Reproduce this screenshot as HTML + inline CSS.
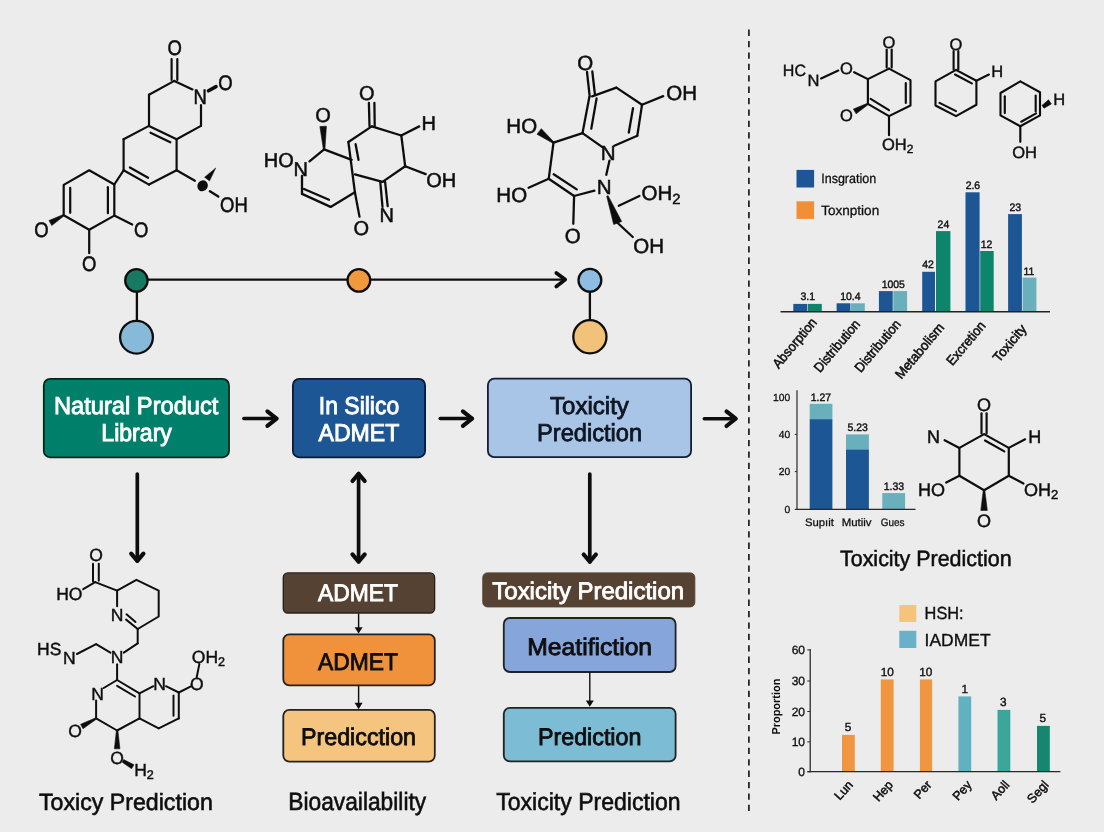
<!DOCTYPE html>
<html><head><meta charset="utf-8"><title>ADMET workflow</title>
<style>
html,body{margin:0;padding:0;background:#ececec;}
body{width:1104px;height:832px;overflow:hidden;}
svg{display:block;font-family:"Liberation Sans",sans-serif;will-change:transform;transform:translateZ(0);text-rendering:geometricPrecision;}
</style></head><body>
<svg width="1104" height="832" viewBox="0 0 1104 832">
<defs><filter id="soft" x="-2%" y="-2%" width="104%" height="104%"><feGaussianBlur stdDeviation="0.38"/></filter></defs>
<rect x="0" y="0" width="1104" height="832" fill="#ececec"/>
<g filter="url(#soft)">
<line x1="171.6" y1="59.0" x2="171.6" y2="80.0" stroke="#111" stroke-width="2.2" stroke-linecap="round"/>
<line x1="177.3" y1="59.0" x2="177.3" y2="80.0" stroke="#111" stroke-width="2.2" stroke-linecap="round"/>
<text transform="translate(174.8,55.3) scale(0.88,1)" x="0" y="0" font-size="21" text-anchor="middle" fill="#111" stroke="#111" stroke-width="0.55">O</text>
<line x1="174.3" y1="80.9" x2="149.0" y2="94.7" stroke="#111" stroke-width="2.2" stroke-linecap="round"/>
<line x1="174.3" y1="80.9" x2="192.5" y2="89.4" stroke="#111" stroke-width="2.2" stroke-linecap="round"/>
<text transform="translate(200.2,103.7) scale(0.88,1)" x="0" y="0" font-size="21" text-anchor="middle" fill="#111" stroke="#111" stroke-width="0.55">N</text>
<line x1="208.5" y1="90.8" x2="216.0" y2="86.6" stroke="#111" stroke-width="3.6" stroke-linecap="round"/>
<text transform="translate(225.4,89.7) scale(0.88,1)" x="0" y="0" font-size="21" text-anchor="middle" fill="#111" stroke="#111" stroke-width="0.55">O</text>
<line x1="149.0" y1="94.7" x2="149.0" y2="125.9" stroke="#111" stroke-width="2.2" stroke-linecap="round"/>
<line x1="201.0" y1="105.0" x2="201.0" y2="125.9" stroke="#111" stroke-width="2.2" stroke-linecap="round"/>
<line x1="201.0" y1="125.9" x2="176.6" y2="139.2" stroke="#111" stroke-width="2.2" stroke-linecap="round"/>
<line x1="149.0" y1="125.9" x2="176.6" y2="139.2" stroke="#111" stroke-width="2.2" stroke-linecap="round"/>
<line x1="150.5" y1="132.7" x2="170.3" y2="142.3" stroke="#111" stroke-width="2.2" stroke-linecap="round"/>
<line x1="149.0" y1="125.9" x2="123.6" y2="139.2" stroke="#111" stroke-width="2.2" stroke-linecap="round"/>
<line x1="123.6" y1="139.2" x2="123.6" y2="170.3" stroke="#111" stroke-width="2.2" stroke-linecap="round"/>
<line x1="123.6" y1="170.3" x2="149.0" y2="184.6" stroke="#111" stroke-width="2.2" stroke-linecap="round"/>
<line x1="129.9" y1="167.5" x2="148.1" y2="177.8" stroke="#111" stroke-width="2.2" stroke-linecap="round"/>
<line x1="149.0" y1="184.6" x2="176.6" y2="170.3" stroke="#111" stroke-width="2.2" stroke-linecap="round"/>
<line x1="176.6" y1="139.2" x2="176.6" y2="170.3" stroke="#111" stroke-width="2.2" stroke-linecap="round"/>
<line x1="176.6" y1="170.3" x2="194.9" y2="180.8" stroke="#111" stroke-width="2.2" stroke-linecap="round"/>
<ellipse cx="202.6" cy="185.8" rx="5.1" ry="5.6" transform="rotate(35 202.6 185.8)" fill="#111"/>
<polygon points="215.7,168.0 204.6,177.2 209.5,181.0" fill="#111" stroke="#111" stroke-width="0.5" stroke-linejoin="round"/>
<line x1="209.9" y1="191.3" x2="218.3" y2="196.5" stroke="#111" stroke-width="2.4" stroke-linecap="round"/>
<text transform="translate(233.9,212.1) scale(0.88,1)" x="0" y="0" font-size="21" text-anchor="middle" fill="#111" stroke="#111" stroke-width="0.55">OH</text>
<line x1="123.6" y1="170.3" x2="114.3" y2="184.5" stroke="#111" stroke-width="2.2" stroke-linecap="round"/>
<polyline points="114.3,184.5 114.3,215.6 89.2,229.8 63.7,215.2 63.7,184.9 89.2,170.3 114.3,184.5" fill="none" stroke="#111" stroke-width="2.2" stroke-linecap="round" stroke-linejoin="round"/>
<line x1="107.9" y1="187.2" x2="107.9" y2="213.2" stroke="#111" stroke-width="2.2" stroke-linecap="round"/>
<line x1="70.2" y1="187.8" x2="70.2" y2="212.8" stroke="#111" stroke-width="2.2" stroke-linecap="round"/>
<polygon points="63.3,214.6 49.0,220.5 51.8,225.5 64.1,215.8" fill="#111" stroke="#111" stroke-width="0.6" stroke-linejoin="round"/>
<text transform="translate(41.4,236.7) scale(0.88,1)" x="0" y="0" font-size="21" text-anchor="middle" fill="#111" stroke="#111" stroke-width="0.55">O</text>
<line x1="114.3" y1="215.6" x2="132.2" y2="224.6" stroke="#111" stroke-width="2.2" stroke-linecap="round"/>
<text transform="translate(141.2,237.1) scale(0.88,1)" x="0" y="0" font-size="21" text-anchor="middle" fill="#111" stroke="#111" stroke-width="0.55">O</text>
<line x1="89.2" y1="229.8" x2="89.2" y2="253.2" stroke="#111" stroke-width="2.2" stroke-linecap="round"/>
<text transform="translate(89.2,271.3) scale(0.88,1)" x="0" y="0" font-size="21" text-anchor="middle" fill="#111" stroke="#111" stroke-width="0.55">O</text>
<text transform="translate(366.9,99.8) scale(1.0,1)" x="0" y="0" font-size="20" text-anchor="middle" fill="#111" stroke="#111" stroke-width="0.52">O</text>
<line x1="368.9" y1="103.0" x2="369.5" y2="126.1" stroke="#111" stroke-width="2.3" stroke-linecap="round"/>
<line x1="374.4" y1="103.0" x2="374.7" y2="126.1" stroke="#111" stroke-width="2.3" stroke-linecap="round"/>
<line x1="371.8" y1="126.4" x2="401.3" y2="135.5" stroke="#111" stroke-width="2.3" stroke-linecap="round"/>
<line x1="401.3" y1="135.5" x2="419.2" y2="126.4" stroke="#111" stroke-width="2.3" stroke-linecap="round"/>
<text transform="translate(428.6,129.6) scale(1.0,1)" x="0" y="0" font-size="20" text-anchor="middle" fill="#111" stroke="#111" stroke-width="0.52">H</text>
<line x1="401.3" y1="135.5" x2="405.2" y2="166.3" stroke="#111" stroke-width="2.3" stroke-linecap="round"/>
<line x1="405.2" y1="166.3" x2="425.7" y2="174.1" stroke="#111" stroke-width="2.3" stroke-linecap="round"/>
<text transform="translate(441.3,187.1) scale(1.0,1)" x="0" y="0" font-size="20" text-anchor="middle" fill="#111" stroke="#111" stroke-width="0.52">OH</text>
<line x1="405.2" y1="166.3" x2="382.5" y2="181.9" stroke="#111" stroke-width="2.3" stroke-linecap="round"/>
<line x1="382.5" y1="181.9" x2="354.9" y2="174.4" stroke="#111" stroke-width="2.3" stroke-linecap="round"/>
<line x1="380.3" y1="182.5" x2="382.5" y2="206.9" stroke="#111" stroke-width="2.3" stroke-linecap="round"/>
<line x1="385.1" y1="181.9" x2="387.7" y2="206.2" stroke="#111" stroke-width="2.3" stroke-linecap="round"/>
<text transform="translate(386.7,222.1) scale(1.0,1)" x="0" y="0" font-size="20" text-anchor="middle" fill="#111" stroke="#111" stroke-width="0.52">N</text>
<line x1="371.8" y1="126.4" x2="348.4" y2="142.0" stroke="#111" stroke-width="2.3" stroke-linecap="round"/>
<line x1="348.4" y1="142.0" x2="354.9" y2="192.3" stroke="#111" stroke-width="2.3" stroke-linecap="round"/>
<line x1="355.6" y1="144.2" x2="358.5" y2="159.8" stroke="#111" stroke-width="2.3" stroke-linecap="round"/>
<line x1="324.1" y1="149.4" x2="351.7" y2="159.8" stroke="#111" stroke-width="2.3" stroke-linecap="round"/>
<line x1="354.9" y1="192.3" x2="330.6" y2="206.9" stroke="#111" stroke-width="2.3" stroke-linecap="round"/>
<line x1="330.6" y1="206.9" x2="302.0" y2="193.9" stroke="#111" stroke-width="2.3" stroke-linecap="round"/>
<line x1="304.0" y1="189.0" x2="329.0" y2="199.7" stroke="#111" stroke-width="2.3" stroke-linecap="round"/>
<line x1="302.0" y1="193.9" x2="302.0" y2="176.0" stroke="#111" stroke-width="2.3" stroke-linecap="round"/>
<line x1="309.5" y1="161.4" x2="324.1" y2="149.4" stroke="#111" stroke-width="2.3" stroke-linecap="round"/>
<polygon points="324.9,149.4 326.4,126.2 319.9,126.5 323.4,149.5" fill="#111" stroke="#111" stroke-width="0.6" stroke-linejoin="round"/>
<text transform="translate(323.1,122.2) scale(1.0,1)" x="0" y="0" font-size="20" text-anchor="middle" fill="#111" stroke="#111" stroke-width="0.52">O</text>
<text transform="translate(278.7,167.0) scale(1.0,1)" x="0" y="0" font-size="20" text-anchor="middle" fill="#111" stroke="#111" stroke-width="0.52">HO</text>
<text transform="translate(300.7,176.1) scale(1.0,1)" x="0" y="0" font-size="20" text-anchor="middle" fill="#111" stroke="#111" stroke-width="0.52">N</text>
<line x1="354.9" y1="192.3" x2="359.5" y2="216.6" stroke="#111" stroke-width="2.3" stroke-linecap="round"/>
<text transform="translate(361.4,235.1) scale(1.0,1)" x="0" y="0" font-size="20" text-anchor="middle" fill="#111" stroke="#111" stroke-width="0.52">O</text>
<text transform="translate(585.2,70.1) scale(1.0,1)" x="0" y="0" font-size="20.5" text-anchor="middle" fill="#111" stroke="#111" stroke-width="0.53">O</text>
<line x1="587.0" y1="72.0" x2="589.7" y2="96.3" stroke="#111" stroke-width="2.3" stroke-linecap="round"/>
<line x1="592.3" y1="71.5" x2="595.0" y2="95.0" stroke="#111" stroke-width="2.3" stroke-linecap="round"/>
<line x1="592.1" y1="96.3" x2="616.4" y2="87.6" stroke="#111" stroke-width="2.3" stroke-linecap="round"/>
<line x1="616.4" y1="87.6" x2="642.0" y2="104.8" stroke="#111" stroke-width="2.3" stroke-linecap="round"/>
<line x1="642.0" y1="104.8" x2="663.2" y2="96.1" stroke="#111" stroke-width="2.3" stroke-linecap="round"/>
<text transform="translate(681.7,100.0) scale(1.0,1)" x="0" y="0" font-size="20.5" text-anchor="middle" fill="#111" stroke="#111" stroke-width="0.53">OH</text>
<line x1="642.0" y1="104.8" x2="637.3" y2="135.7" stroke="#111" stroke-width="2.3" stroke-linecap="round"/>
<line x1="633.0" y1="108.2" x2="628.8" y2="132.5" stroke="#111" stroke-width="2.3" stroke-linecap="round"/>
<line x1="637.3" y1="135.7" x2="614.3" y2="145.8" stroke="#111" stroke-width="2.3" stroke-linecap="round"/>
<text transform="translate(608.2,160.0) scale(1.0,1)" x="0" y="0" font-size="20.5" text-anchor="middle" fill="#111" stroke="#111" stroke-width="0.53">N</text>
<line x1="589.4" y1="96.8" x2="582.5" y2="133.1" stroke="#111" stroke-width="2.3" stroke-linecap="round"/>
<line x1="596.6" y1="98.4" x2="591.3" y2="128.6" stroke="#111" stroke-width="2.3" stroke-linecap="round"/>
<line x1="582.5" y1="133.1" x2="602.4" y2="147.1" stroke="#111" stroke-width="2.3" stroke-linecap="round"/>
<line x1="582.5" y1="133.1" x2="553.5" y2="142.6" stroke="#111" stroke-width="2.3" stroke-linecap="round"/>
<polygon points="553.9,142.0 541.3,128.7 537.0,134.2 553.0,143.2" fill="#111" stroke="#111" stroke-width="0.6" stroke-linejoin="round"/>
<text transform="translate(521.7,132.7) scale(1.0,1)" x="0" y="0" font-size="20.5" text-anchor="middle" fill="#111" stroke="#111" stroke-width="0.53">HO</text>
<line x1="553.5" y1="142.6" x2="548.7" y2="178.8" stroke="#111" stroke-width="2.3" stroke-linecap="round"/>
<line x1="548.7" y1="178.8" x2="528.6" y2="187.8" stroke="#111" stroke-width="2.3" stroke-linecap="round"/>
<text transform="translate(511.7,201.8) scale(1.0,1)" x="0" y="0" font-size="20.5" text-anchor="middle" fill="#111" stroke="#111" stroke-width="0.53">HO</text>
<line x1="548.7" y1="178.8" x2="574.1" y2="196.0" stroke="#111" stroke-width="2.3" stroke-linecap="round"/>
<line x1="553.7" y1="174.3" x2="576.7" y2="189.4" stroke="#111" stroke-width="2.3" stroke-linecap="round"/>
<line x1="574.1" y1="196.0" x2="594.4" y2="190.7" stroke="#111" stroke-width="2.3" stroke-linecap="round"/>
<text transform="translate(604.2,193.8) scale(1.0,1)" x="0" y="0" font-size="20.5" text-anchor="middle" fill="#111" stroke="#111" stroke-width="0.53">N</text>
<line x1="609.5" y1="160.6" x2="606.3" y2="174.8" stroke="#111" stroke-width="2.3" stroke-linecap="round"/>
<line x1="574.1" y1="196.0" x2="573.3" y2="223.8" stroke="#111" stroke-width="2.3" stroke-linecap="round"/>
<text transform="translate(572.8,242.7) scale(1.0,1)" x="0" y="0" font-size="20.5" text-anchor="middle" fill="#111" stroke="#111" stroke-width="0.53">O</text>
<polygon points="606.7,196.3 613.7,224.5 621.7,221.5 608.1,195.7" fill="#111" stroke="#111" stroke-width="0.6" stroke-linejoin="round"/>
<line x1="618.8" y1="205.8" x2="639.4" y2="196.0" stroke="#111" stroke-width="2.3" stroke-linecap="round"/>
<text transform="translate(661.1,200.4) scale(1.0,1)" x="0" y="0" font-size="20.5" text-anchor="middle" fill="#111" stroke="#111" stroke-width="0.53">OH<tspan font-size="14.8" dy="3.7">2</tspan></text>
<line x1="617.7" y1="223.0" x2="632.8" y2="237.0" stroke="#111" stroke-width="2.3" stroke-linecap="round"/>
<text transform="translate(648.6,252.5) scale(1.0,1)" x="0" y="0" font-size="20.5" text-anchor="middle" fill="#111" stroke="#111" stroke-width="0.53">OH</text>
<line x1="136.9" y1="280.3" x2="136.9" y2="337.0" stroke="#111" stroke-width="2.3" stroke-linecap="round"/>
<line x1="136.5" y1="279.7" x2="358.8" y2="279.7" stroke="#111" stroke-width="2.3" stroke-linecap="round"/>
<line x1="358.8" y1="279.7" x2="562.0" y2="279.7" stroke="#111" stroke-width="2.3" stroke-linecap="round"/>
<polyline points="556.3,272.9 565.2,279.6 556.3,286.5" fill="none" stroke="#111" stroke-width="3.7" stroke-linecap="round" stroke-linejoin="round"/>
<line x1="589.9" y1="280.3" x2="589.9" y2="337.0" stroke="#111" stroke-width="2.3" stroke-linecap="round"/>
<circle cx="136.4" cy="280.4" r="11.2" fill="#147a63" stroke="#111" stroke-width="2.3"/>
<circle cx="136.5" cy="337.2" r="16.4" fill="#86bad8" stroke="#111" stroke-width="2.3"/>
<circle cx="358.9" cy="280.4" r="11.3" fill="#f09a3e" stroke="#111" stroke-width="2.3"/>
<circle cx="589.9" cy="280.3" r="11.4" fill="#8ebde3" stroke="#111" stroke-width="2.3"/>
<circle cx="589.9" cy="336.8" r="16.6" fill="#f3c27a" stroke="#111" stroke-width="2.3"/>
<rect x="43.8" y="378.9" width="185.2" height="78.4" rx="6.3" fill="#05806a" stroke="#06281f" stroke-width="1.8"/>
<text x="136.2" y="414.3" font-size="24.5" text-anchor="middle" fill="#fff" textLength="164.4" lengthAdjust="spacingAndGlyphs" stroke="#fff" stroke-width="0.9">Natural Product</text>
<text x="136.6" y="441.4" font-size="24.5" text-anchor="middle" fill="#fff" textLength="70.6" lengthAdjust="spacingAndGlyphs" stroke="#fff" stroke-width="0.9">Library</text>
<rect x="292.9" y="378.9" width="132.2" height="78.4" rx="6.3" fill="#1c5694" stroke="#0c1c33" stroke-width="1.8"/>
<rect x="487.9" y="378.7" width="203.2" height="78.4" rx="6.3" fill="#a8c4e7" stroke="#141d30" stroke-width="1.8"/>
<line x1="243.8" y1="418.6" x2="276.6" y2="418.6" stroke="#111" stroke-width="3.5" stroke-linecap="round"/>
<polyline points="267.4,425.9 276.6,418.6 267.4,411.3" fill="none" stroke="#111" stroke-width="4.1" stroke-linecap="round" stroke-linejoin="round"/>
<line x1="440.2" y1="418.6" x2="472.1" y2="418.6" stroke="#111" stroke-width="3.5" stroke-linecap="round"/>
<polyline points="462.9,425.9 472.1,418.6 462.9,411.3" fill="none" stroke="#111" stroke-width="4.1" stroke-linecap="round" stroke-linejoin="round"/>
<line x1="704.3" y1="418.7" x2="735.7" y2="418.7" stroke="#111" stroke-width="3.5" stroke-linecap="round"/>
<polyline points="726.5,426.0 735.7,418.7 726.5,411.4" fill="none" stroke="#111" stroke-width="4.1" stroke-linecap="round" stroke-linejoin="round"/>
<text x="359.0" y="414.3" font-size="24.5" text-anchor="middle" fill="#fff" textLength="80.3" lengthAdjust="spacingAndGlyphs" stroke="#fff" stroke-width="0.9">In Silico</text>
<text x="358.9" y="441.4" font-size="24.5" text-anchor="middle" fill="#fff" textLength="80.7" lengthAdjust="spacingAndGlyphs" stroke="#fff" stroke-width="0.9">ADMET</text>
<text x="589.5" y="414.4" font-size="24.5" text-anchor="middle" fill="#0e1420" textLength="78.8" lengthAdjust="spacingAndGlyphs" stroke="#0e1420" stroke-width="0.8">Toxicity</text>
<text x="589.6" y="441.3" font-size="24.5" text-anchor="middle" fill="#0e1420" textLength="105.1" lengthAdjust="spacingAndGlyphs" stroke="#0e1420" stroke-width="0.8">Prediction</text>
<line x1="137.3" y1="474.0" x2="137.3" y2="560.8" stroke="#111" stroke-width="3.7" stroke-linecap="round"/>
<polyline points="131.2,553.6 137.3,560.8 143.4,553.6" fill="none" stroke="#111" stroke-width="4.2" stroke-linecap="round" stroke-linejoin="round"/>
<line x1="358.6" y1="473.8" x2="358.6" y2="561.6" stroke="#111" stroke-width="3.7" stroke-linecap="round"/>
<polyline points="352.5,554.4 358.6,561.6 364.7,554.4" fill="none" stroke="#111" stroke-width="4.2" stroke-linecap="round" stroke-linejoin="round"/>
<polyline points="364.7,481.0 358.6,473.8 352.5,481.0" fill="none" stroke="#111" stroke-width="4.2" stroke-linecap="round" stroke-linejoin="round"/>
<line x1="589.8" y1="474.0" x2="589.8" y2="561.7" stroke="#111" stroke-width="3.7" stroke-linecap="round"/>
<polyline points="583.7,554.5 589.8,561.7 595.9,554.5" fill="none" stroke="#111" stroke-width="4.2" stroke-linecap="round" stroke-linejoin="round"/>
<rect x="283.3" y="572.9" width="151.3" height="40.1" rx="4.5" fill="#564333" stroke="#2a2018" stroke-width="1.4"/>
<text x="358.0" y="601.1" font-size="24" text-anchor="middle" fill="#fff" textLength="80.0" lengthAdjust="spacingAndGlyphs" stroke="#fff" stroke-width="0.85">ADMET</text>
<line x1="358.6" y1="613.5" x2="358.6" y2="631.6" stroke="#111" stroke-width="1.4" stroke-linecap="butt"/>
<polygon points="358.6,633.6 354.6,627.2 362.6,627.2" fill="#111"/>
<rect x="283.3" y="634.4" width="151.5" height="50.9" rx="6" fill="#f0913a" stroke="#222" stroke-width="1.8"/>
<text x="358.0" y="670.3" font-size="24" text-anchor="middle" fill="#111" textLength="80.0" lengthAdjust="spacingAndGlyphs" stroke="#111" stroke-width="0.85">ADMET</text>
<line x1="358.6" y1="686.0" x2="358.6" y2="707.2" stroke="#111" stroke-width="1.4" stroke-linecap="butt"/>
<polygon points="358.6,709.2 354.6,702.8 362.6,702.8" fill="#111"/>
<rect x="283.3" y="709.8" width="151.5" height="51.8" rx="6" fill="#f5c57f" stroke="#222" stroke-width="1.8"/>
<text x="358.5" y="745.3" font-size="24" text-anchor="middle" fill="#111" textLength="115.0" lengthAdjust="spacingAndGlyphs" stroke="#111" stroke-width="0.85">Predicction</text>
<text x="357.2" y="810.0" font-size="25" text-anchor="middle" fill="#111" textLength="137.9" lengthAdjust="spacingAndGlyphs" stroke="#111" stroke-width="0.6">Bioavailability</text>
<rect x="482.8" y="572.9" width="212.0" height="34.0" rx="4.5" fill="#564333" stroke="#564333" stroke-width="1"/>
<text x="588.2" y="599.2" font-size="24" text-anchor="middle" fill="#fff" textLength="191.7" lengthAdjust="spacingAndGlyphs" stroke="#fff" stroke-width="0.85">Toxicity Prediction</text>
<rect x="503.8" y="618.0" width="171.8" height="54.0" rx="6" fill="#86a5da" stroke="#222" stroke-width="1.8"/>
<text x="589.7" y="655.1" font-size="24" text-anchor="middle" fill="#111" textLength="124.8" lengthAdjust="spacingAndGlyphs" stroke="#111" stroke-width="0.85">Meatifiction</text>
<line x1="589.8" y1="672.5" x2="589.8" y2="704.8" stroke="#111" stroke-width="1.4" stroke-linecap="butt"/>
<polygon points="589.8,706.8 585.8,700.4 593.8,700.4" fill="#111"/>
<rect x="503.8" y="707.8" width="171.8" height="53.6" rx="6" fill="#7bbcd5" stroke="#222" stroke-width="1.8"/>
<text x="589.7" y="744.5" font-size="24" text-anchor="middle" fill="#111" textLength="103.5" lengthAdjust="spacingAndGlyphs" stroke="#111" stroke-width="0.85">Prediction</text>
<text x="588.4" y="809.8" font-size="24.5" text-anchor="middle" fill="#111" textLength="184.3" lengthAdjust="spacingAndGlyphs" stroke="#111" stroke-width="0.6">Toxicity Prediction</text>
<text x="125.9" y="809.5" font-size="23.5" text-anchor="middle" fill="#111" textLength="173.8" lengthAdjust="spacingAndGlyphs" stroke="#111" stroke-width="0.6">Toxicy Prediction</text>
<text transform="translate(96.1,561.1) scale(1.0,1)" x="0" y="0" font-size="17.5" text-anchor="middle" fill="#111" stroke="#111" stroke-width="0.45">O</text>
<line x1="93.0" y1="563.7" x2="93.0" y2="581.6" stroke="#111" stroke-width="2.0" stroke-linecap="round"/>
<line x1="98.8" y1="563.7" x2="98.8" y2="580.7" stroke="#111" stroke-width="2.0" stroke-linecap="round"/>
<line x1="95.2" y1="582.1" x2="83.2" y2="589.2" stroke="#111" stroke-width="2.0" stroke-linecap="round"/>
<text transform="translate(69.3,599.5) scale(1.0,1)" x="0" y="0" font-size="17.5" text-anchor="middle" fill="#111" stroke="#111" stroke-width="0.45">HO</text>
<line x1="95.2" y1="582.1" x2="117.1" y2="590.6" stroke="#111" stroke-width="2.0" stroke-linecap="round"/>
<polyline points="117.1,590.6 136.4,579.8 158.7,590.6 158.7,616.5 137.7,629.0" fill="none" stroke="#111" stroke-width="2.0" stroke-linecap="round" stroke-linejoin="round"/>
<line x1="137.7" y1="629.0" x2="126.1" y2="619.6" stroke="#111" stroke-width="2.0" stroke-linecap="round"/>
<line x1="135.5" y1="621.9" x2="126.5" y2="614.3" stroke="#111" stroke-width="2.0" stroke-linecap="round"/>
<text transform="translate(117.1,620.5) scale(1.0,1)" x="0" y="0" font-size="17.5" text-anchor="middle" fill="#111" stroke="#111" stroke-width="0.45">N</text>
<line x1="117.1" y1="590.6" x2="117.1" y2="606.2" stroke="#111" stroke-width="2.0" stroke-linecap="round"/>
<line x1="137.7" y1="629.0" x2="137.7" y2="643.3" stroke="#111" stroke-width="2.0" stroke-linecap="round"/>
<line x1="137.7" y1="643.3" x2="123.8" y2="652.7" stroke="#111" stroke-width="2.0" stroke-linecap="round"/>
<text transform="translate(117.1,663.0) scale(1.0,1)" x="0" y="0" font-size="17.5" text-anchor="middle" fill="#111" stroke="#111" stroke-width="0.45">N</text>
<line x1="110.4" y1="652.7" x2="96.1" y2="644.2" stroke="#111" stroke-width="2.0" stroke-linecap="round"/>
<line x1="96.1" y1="644.2" x2="76.9" y2="654.0" stroke="#111" stroke-width="2.0" stroke-linecap="round"/>
<text transform="translate(69.3,664.3) scale(1.0,1)" x="0" y="0" font-size="17.5" text-anchor="middle" fill="#111" stroke="#111" stroke-width="0.45">N</text>
<text transform="translate(49.2,654.5) scale(1.0,1)" x="0" y="0" font-size="17.5" text-anchor="middle" fill="#111" stroke="#111" stroke-width="0.45">HS</text>
<line x1="117.1" y1="664.3" x2="117.1" y2="680.0" stroke="#111" stroke-width="2.0" stroke-linecap="round"/>
<line x1="117.1" y1="680.0" x2="103.7" y2="688.0" stroke="#111" stroke-width="2.0" stroke-linecap="round"/>
<text transform="translate(97.5,699.7) scale(1.0,1)" x="0" y="0" font-size="17.5" text-anchor="middle" fill="#111" stroke="#111" stroke-width="0.45">N</text>
<line x1="117.1" y1="680.0" x2="139.5" y2="693.4" stroke="#111" stroke-width="2.0" stroke-linecap="round"/>
<line x1="117.1" y1="685.8" x2="135.0" y2="696.5" stroke="#111" stroke-width="2.0" stroke-linecap="round"/>
<line x1="139.5" y1="693.4" x2="153.4" y2="686.2" stroke="#111" stroke-width="2.0" stroke-linecap="round"/>
<text transform="translate(159.6,689.8) scale(1.0,1)" x="0" y="0" font-size="17.5" text-anchor="middle" fill="#111" stroke="#111" stroke-width="0.45">N</text>
<line x1="165.9" y1="686.2" x2="178.8" y2="692.5" stroke="#111" stroke-width="2.0" stroke-linecap="round"/>
<line x1="178.8" y1="692.5" x2="191.4" y2="686.2" stroke="#111" stroke-width="2.0" stroke-linecap="round"/>
<text transform="translate(196.7,689.8) scale(1.0,1)" x="0" y="0" font-size="17.5" text-anchor="middle" fill="#111" stroke="#111" stroke-width="0.45">O</text>
<line x1="196.7" y1="677.3" x2="199.4" y2="663.9" stroke="#111" stroke-width="2.0" stroke-linecap="round"/>
<text transform="translate(208.4,663.0) scale(1.0,1)" x="0" y="0" font-size="17.5" text-anchor="middle" fill="#111" stroke="#111" stroke-width="0.45">OH<tspan font-size="12.6" dy="3.1">2</tspan></text>
<line x1="178.8" y1="692.5" x2="178.8" y2="718.4" stroke="#111" stroke-width="2.0" stroke-linecap="round"/>
<line x1="173.5" y1="695.6" x2="173.5" y2="715.7" stroke="#111" stroke-width="2.0" stroke-linecap="round"/>
<line x1="178.8" y1="718.4" x2="158.7" y2="728.3" stroke="#111" stroke-width="2.0" stroke-linecap="round"/>
<line x1="158.7" y1="728.3" x2="139.5" y2="718.4" stroke="#111" stroke-width="2.0" stroke-linecap="round"/>
<line x1="139.5" y1="693.4" x2="139.5" y2="718.4" stroke="#111" stroke-width="2.0" stroke-linecap="round"/>
<line x1="139.5" y1="718.4" x2="117.1" y2="730.5" stroke="#111" stroke-width="2.0" stroke-linecap="round"/>
<line x1="117.1" y1="730.5" x2="96.1" y2="718.4" stroke="#111" stroke-width="2.0" stroke-linecap="round"/>
<line x1="96.1" y1="718.4" x2="96.1" y2="700.5" stroke="#111" stroke-width="2.0" stroke-linecap="round"/>
<polygon points="95.8,717.8 80.6,724.3 83.0,728.7 96.5,719.1" fill="#111" stroke="#111" stroke-width="0.6" stroke-linejoin="round"/>
<text transform="translate(75.1,736.8) scale(1.0,1)" x="0" y="0" font-size="17.5" text-anchor="middle" fill="#111" stroke="#111" stroke-width="0.45">O</text>
<polygon points="116.4,730.5 114.4,748.8 119.9,748.8 117.9,730.5" fill="#111" stroke="#111" stroke-width="0.6" stroke-linejoin="round"/>
<text transform="translate(117.1,764.0) scale(1.0,1)" x="0" y="0" font-size="17.5" text-anchor="middle" fill="#111" stroke="#111" stroke-width="0.45">O</text>
<polygon points="122.2,762.2 131.6,768.7 133.9,764.8 123.7,759.6" fill="#111" stroke="#111" stroke-width="0.6" stroke-linejoin="round"/>
<text transform="translate(144.0,775.7) scale(1.0,1)" x="0" y="0" font-size="17.5" text-anchor="middle" fill="#111" stroke="#111" stroke-width="0.45">H<tspan font-size="12.6" dy="3.1">2</tspan></text>
<line x1="748.9" y1="29.6" x2="748.9" y2="811.6" stroke="#1c1c1c" stroke-width="1.7" stroke-dasharray="6.3 5.1"/>
<text transform="translate(794.4,75.8) scale(0.97,1)" x="0" y="0" font-size="16.5" text-anchor="middle" fill="#111" stroke="#111" stroke-width="0.43">HC</text>
<text transform="translate(813.5,86.4) scale(1.0,1)" x="0" y="0" font-size="16.5" text-anchor="middle" fill="#111" stroke="#111" stroke-width="0.43">N</text>
<line x1="821.1" y1="78.5" x2="838.3" y2="70.6" stroke="#111" stroke-width="2.15" stroke-linecap="round"/>
<text transform="translate(846.5,74.2) scale(1.0,1)" x="0" y="0" font-size="16.5" text-anchor="middle" fill="#111" stroke="#111" stroke-width="0.43">O</text>
<line x1="854.1" y1="72.2" x2="867.9" y2="79.1" stroke="#111" stroke-width="2.15" stroke-linecap="round"/>
<line x1="867.9" y1="79.1" x2="889.0" y2="68.6" stroke="#111" stroke-width="2.15" stroke-linecap="round"/>
<text transform="translate(889.0,48.1) scale(1.0,1)" x="0" y="0" font-size="16.5" text-anchor="middle" fill="#111" stroke="#111" stroke-width="0.43">O</text>
<line x1="886.7" y1="49.5" x2="886.7" y2="67.6" stroke="#111" stroke-width="2.15" stroke-linecap="round"/>
<line x1="891.7" y1="49.5" x2="891.7" y2="67.6" stroke="#111" stroke-width="2.15" stroke-linecap="round"/>
<polyline points="889.0,68.6 910.5,80.1 910.5,105.5 889.0,116.1 867.9,103.9 867.9,79.1" fill="none" stroke="#111" stroke-width="2.15" stroke-linecap="round" stroke-linejoin="round"/>
<line x1="905.8" y1="83.1" x2="905.8" y2="102.9" stroke="#111" stroke-width="2.15" stroke-linecap="round"/>
<line x1="870.6" y1="98.9" x2="889.0" y2="110.1" stroke="#111" stroke-width="2.15" stroke-linecap="round"/>
<polygon points="867.6,103.2 853.4,109.1 856.1,113.8 868.3,104.5" fill="#111" stroke="#111" stroke-width="0.6" stroke-linejoin="round"/>
<text transform="translate(846.5,121.3) scale(1.0,1)" x="0" y="0" font-size="16.5" text-anchor="middle" fill="#111" stroke="#111" stroke-width="0.43">O</text>
<line x1="889.0" y1="116.1" x2="889.0" y2="135.2" stroke="#111" stroke-width="2.15" stroke-linecap="round"/>
<text transform="translate(897.6,150.0) scale(1.0,1)" x="0" y="0" font-size="16.5" text-anchor="middle" fill="#111" stroke="#111" stroke-width="0.43">OH<tspan font-size="11.9" dy="3.0">2</tspan></text>
<text transform="translate(956.0,49.8) scale(1.0,1)" x="0" y="0" font-size="16.5" text-anchor="middle" fill="#111" stroke="#111" stroke-width="0.43">O</text>
<line x1="953.6" y1="51.1" x2="953.6" y2="69.2" stroke="#111" stroke-width="2.15" stroke-linecap="round"/>
<line x1="958.3" y1="51.1" x2="958.3" y2="69.2" stroke="#111" stroke-width="2.15" stroke-linecap="round"/>
<polyline points="956.0,69.9 935.5,81.4 935.5,105.5 956.0,116.1 976.4,104.8 976.4,80.8 956.0,69.9" fill="none" stroke="#111" stroke-width="2.15" stroke-linecap="round" stroke-linejoin="round"/>
<line x1="939.5" y1="102.9" x2="956.0" y2="111.1" stroke="#111" stroke-width="2.15" stroke-linecap="round"/>
<line x1="955.0" y1="74.5" x2="971.8" y2="83.4" stroke="#111" stroke-width="2.15" stroke-linecap="round"/>
<line x1="976.4" y1="80.8" x2="988.9" y2="74.5" stroke="#111" stroke-width="2.15" stroke-linecap="round"/>
<text transform="translate(997.2,77.1) scale(1.0,1)" x="0" y="0" font-size="16.5" text-anchor="middle" fill="#111" stroke="#111" stroke-width="0.43">H</text>
<polyline points="1020.3,81.4 1040.0,92.3 1040.0,115.4 1020.3,126.3 1000.5,115.4 1000.5,93.0 1020.3,81.4" fill="none" stroke="#111" stroke-width="2.15" stroke-linecap="round" stroke-linejoin="round"/>
<line x1="1004.8" y1="96.3" x2="1004.8" y2="113.1" stroke="#111" stroke-width="2.15" stroke-linecap="round"/>
<line x1="1035.7" y1="95.6" x2="1035.7" y2="111.4" stroke="#111" stroke-width="2.15" stroke-linecap="round"/>
<line x1="1021.2" y1="121.7" x2="1036.1" y2="113.4" stroke="#111" stroke-width="2.15" stroke-linecap="round"/>
<polygon points="1044.0,108.2 1051.4,103.9 1048.5,99.8 1042.0,105.4" fill="#111" stroke="#111" stroke-width="0.6" stroke-linejoin="round"/>
<text transform="translate(1059.2,104.8) scale(1.0,1)" x="0" y="0" font-size="16.5" text-anchor="middle" fill="#111" stroke="#111" stroke-width="0.43">H</text>
<line x1="1020.3" y1="126.3" x2="1020.3" y2="141.8" stroke="#111" stroke-width="2.15" stroke-linecap="round"/>
<text transform="translate(1024.5,158.2) scale(1.0,1)" x="0" y="0" font-size="16.5" text-anchor="middle" fill="#111" stroke="#111" stroke-width="0.43">OH</text>
<rect x="796.5" y="169.9" width="17.6" height="17.6" fill="#1d5695"/>
<rect x="796.5" y="201.3" width="17.6" height="17.6" fill="#f28f36"/>
<text x="821.2" y="183.4" font-size="13.5" text-anchor="start" fill="#111" textLength="55.0" lengthAdjust="spacingAndGlyphs" stroke="#111" stroke-width="0.3">Insgration</text>
<text x="821.2" y="215.4" font-size="13.5" text-anchor="start" fill="#111" textLength="58.0" lengthAdjust="spacingAndGlyphs" stroke="#111" stroke-width="0.3">Toxnption</text>
<rect x="793.3" y="303.9" width="13.8" height="7.4" fill="#1d5695"/>
<rect x="807.7" y="303.9" width="14.1" height="7.4" fill="#0f856a"/>
<rect x="836.6" y="303.3" width="13.8" height="8.0" fill="#1d5695"/>
<rect x="851.0" y="303.3" width="13.8" height="8.0" fill="#69afbc"/>
<rect x="878.9" y="291.1" width="13.8" height="20.2" fill="#1d5695"/>
<rect x="893.3" y="291.1" width="13.8" height="20.2" fill="#69afbc"/>
<rect x="922.2" y="271.8" width="12.8" height="39.5" fill="#1d5695"/>
<rect x="936.0" y="231.1" width="14.4" height="80.2" fill="#0f856a"/>
<rect x="965.5" y="192.3" width="14.1" height="119.0" fill="#1d5695"/>
<rect x="980.2" y="251.0" width="13.5" height="60.3" fill="#0f856a"/>
<rect x="1008.1" y="214.1" width="13.8" height="97.2" fill="#1d5695"/>
<rect x="1022.6" y="277.6" width="13.8" height="33.7" fill="#69afbc"/>
<line x1="780.5" y1="311.7" x2="1050.0" y2="311.7" stroke="#222" stroke-width="1.6" stroke-linecap="butt"/>
<text transform="translate(807.7,299.8) scale(0.97,1)" x="0" y="0" font-size="10.8" text-anchor="middle" fill="#111" stroke="#111" stroke-width="0.40">3.1</text>
<text transform="translate(850.4,299.8) scale(0.97,1)" x="0" y="0" font-size="10.8" text-anchor="middle" fill="#111" stroke="#111" stroke-width="0.40">10.4</text>
<text transform="translate(893.3,287.9) scale(0.97,1)" x="0" y="0" font-size="10.8" text-anchor="middle" fill="#111" stroke="#111" stroke-width="0.40">1005</text>
<text transform="translate(928.0,268.3) scale(0.97,1)" x="0" y="0" font-size="10.8" text-anchor="middle" fill="#111" stroke="#111" stroke-width="0.40">42</text>
<text transform="translate(943.4,228.3) scale(0.97,1)" x="0" y="0" font-size="10.8" text-anchor="middle" fill="#111" stroke="#111" stroke-width="0.40">24</text>
<text transform="translate(972.9,188.5) scale(0.97,1)" x="0" y="0" font-size="10.8" text-anchor="middle" fill="#111" stroke="#111" stroke-width="0.40">2.6</text>
<text transform="translate(986.6,247.5) scale(0.97,1)" x="0" y="0" font-size="10.8" text-anchor="middle" fill="#111" stroke="#111" stroke-width="0.40">12</text>
<text transform="translate(1015.2,210.9) scale(0.97,1)" x="0" y="0" font-size="10.8" text-anchor="middle" fill="#111" stroke="#111" stroke-width="0.40">23</text>
<text transform="translate(1029.0,274.8) scale(0.97,1)" x="0" y="0" font-size="10.8" text-anchor="middle" fill="#111" stroke="#111" stroke-width="0.40">11</text>
<text transform="translate(814.1,319.9) rotate(-50)" x="0" y="4.5" font-size="13.5" text-anchor="end" fill="#111" stroke="#111" stroke-width="0.55" textLength="60.5" lengthAdjust="spacingAndGlyphs">Absorption</text>
<text transform="translate(857.4,321.6) rotate(-50)" x="0" y="4.5" font-size="13.5" text-anchor="end" fill="#111" stroke="#111" stroke-width="0.55" textLength="63.5" lengthAdjust="spacingAndGlyphs">Distribution</text>
<text transform="translate(898.1,321.6) rotate(-50)" x="0" y="4.5" font-size="13.5" text-anchor="end" fill="#111" stroke="#111" stroke-width="0.55" textLength="63.5" lengthAdjust="spacingAndGlyphs">Distribution</text>
<text transform="translate(941.4,324.8) rotate(-50)" x="0" y="4.5" font-size="13.5" text-anchor="end" fill="#111" stroke="#111" stroke-width="0.55" textLength="68" lengthAdjust="spacingAndGlyphs">Metabolism</text>
<text transform="translate(982.8,323.2) rotate(-50)" x="0" y="4.5" font-size="13.5" text-anchor="end" fill="#111" stroke="#111" stroke-width="0.55" textLength="52.5" lengthAdjust="spacingAndGlyphs">Excretion</text>
<text transform="translate(1023.8,326.4) rotate(-50)" x="0" y="4.5" font-size="13.5" text-anchor="end" fill="#111" stroke="#111" stroke-width="0.55" textLength="44" lengthAdjust="spacingAndGlyphs">Toxicity</text>
<rect x="809.7" y="419.1" width="22.7" height="90.3" fill="#1c5795"/>
<rect x="809.7" y="403.8" width="22.7" height="15.3" fill="#69afbc"/>
<rect x="846.0" y="449.3" width="22.9" height="60.1" fill="#1c5795"/>
<rect x="846.0" y="434.4" width="22.9" height="14.9" fill="#69afbc"/>
<rect x="882.3" y="493.1" width="22.8" height="16.3" fill="#69afbc"/>
<line x1="797.0" y1="390.2" x2="797.0" y2="509.9" stroke="#2a2a2a" stroke-width="1.2" stroke-linecap="butt"/>
<line x1="795.5" y1="509.4" x2="915.5" y2="509.4" stroke="#2a2a2a" stroke-width="1.2" stroke-linecap="butt"/>
<text x="790.3" y="400.8" font-size="10.3" text-anchor="end" fill="#111" stroke="#111" stroke-width="0.3">100</text>
<text x="790.3" y="438.1" font-size="10.3" text-anchor="end" fill="#111" stroke="#111" stroke-width="0.3">40</text>
<line x1="794.8" y1="434.4" x2="797.0" y2="434.4" stroke="#2a2a2a" stroke-width="1" stroke-linecap="butt"/>
<text x="790.3" y="475.3" font-size="10.3" text-anchor="end" fill="#111" stroke="#111" stroke-width="0.3">20</text>
<line x1="794.8" y1="471.6" x2="797.0" y2="471.6" stroke="#2a2a2a" stroke-width="1" stroke-linecap="butt"/>
<text x="790.3" y="513.1" font-size="10.3" text-anchor="end" fill="#111" stroke="#111" stroke-width="0.3">0</text>
<line x1="794.8" y1="509.4" x2="797.0" y2="509.4" stroke="#2a2a2a" stroke-width="1" stroke-linecap="butt"/>
<text transform="translate(820.9,401.0) scale(0.97,1)" x="0" y="0" font-size="10.8" text-anchor="middle" fill="#111" stroke="#111" stroke-width="0.40">1.27</text>
<text transform="translate(857.6,431.4) scale(0.97,1)" x="0" y="0" font-size="10.8" text-anchor="middle" fill="#111" stroke="#111" stroke-width="0.40">5.23</text>
<text transform="translate(893.9,490.1) scale(0.97,1)" x="0" y="0" font-size="10.8" text-anchor="middle" fill="#111" stroke="#111" stroke-width="0.40">1.33</text>
<text x="819.4" y="525.7" font-size="10.8" text-anchor="middle" fill="#111" textLength="28.9" lengthAdjust="spacingAndGlyphs" stroke="#111" stroke-width="0.3">Supıit</text>
<text x="856.6" y="525.7" font-size="10.8" text-anchor="middle" fill="#111" textLength="29.8" lengthAdjust="spacingAndGlyphs" stroke="#111" stroke-width="0.3">Mutiiv</text>
<text x="892.6" y="525.7" font-size="10.8" text-anchor="middle" fill="#111" textLength="23.8" lengthAdjust="spacingAndGlyphs" stroke="#111" stroke-width="0.3">Gues</text>
<text transform="translate(984.1,410.8) scale(1.0,1)" x="0" y="0" font-size="18" text-anchor="middle" fill="#111" stroke="#111" stroke-width="0.47">O</text>
<line x1="981.5" y1="413.3" x2="981.5" y2="433.5" stroke="#111" stroke-width="2.2" stroke-linecap="round"/>
<line x1="986.6" y1="413.3" x2="986.6" y2="433.5" stroke="#111" stroke-width="2.2" stroke-linecap="round"/>
<polyline points="984.1,434.1 959.4,447.9 959.4,475.8 984.1,490.2 1008.8,475.8 1008.8,447.9 984.1,434.1" fill="none" stroke="#111" stroke-width="2.2" stroke-linecap="round" stroke-linejoin="round"/>
<line x1="985.0" y1="440.5" x2="1004.3" y2="451.4" stroke="#111" stroke-width="2.2" stroke-linecap="round"/>
<line x1="959.4" y1="447.9" x2="944.6" y2="440.2" stroke="#111" stroke-width="2.2" stroke-linecap="round"/>
<text transform="translate(933.4,443.1) scale(1.0,1)" x="0" y="0" font-size="18" text-anchor="middle" fill="#111" stroke="#111" stroke-width="0.47">N</text>
<line x1="1008.8" y1="447.9" x2="1025.1" y2="439.3" stroke="#111" stroke-width="2.2" stroke-linecap="round"/>
<text transform="translate(1034.7,443.1) scale(1.0,1)" x="0" y="0" font-size="18" text-anchor="middle" fill="#111" stroke="#111" stroke-width="0.47">H</text>
<line x1="959.4" y1="475.8" x2="946.2" y2="482.6" stroke="#111" stroke-width="2.2" stroke-linecap="round"/>
<text transform="translate(931.5,495.7) scale(1.0,1)" x="0" y="0" font-size="18" text-anchor="middle" fill="#111" stroke="#111" stroke-width="0.47">HO</text>
<line x1="1008.8" y1="475.8" x2="1023.5" y2="483.5" stroke="#111" stroke-width="2.2" stroke-linecap="round"/>
<text transform="translate(1041.2,495.7) scale(1.0,1)" x="0" y="0" font-size="18" text-anchor="middle" fill="#111" stroke="#111" stroke-width="0.47">OH<tspan font-size="13.0" dy="3.2">2</tspan></text>
<polygon points="983.3,490.2 980.8,510.4 987.3,510.4 984.8,490.2" fill="#111" stroke="#111" stroke-width="0.6" stroke-linejoin="round"/>
<text transform="translate(984.1,527.2) scale(1.0,1)" x="0" y="0" font-size="18" text-anchor="middle" fill="#111" stroke="#111" stroke-width="0.47">O</text>
<text x="925.8" y="566.0" font-size="22.2" text-anchor="middle" fill="#111" textLength="171.6" lengthAdjust="spacingAndGlyphs" stroke="#111" stroke-width="0.55">Toxicity Prediction</text>
<rect x="899.3" y="605.0" width="17.0" height="16.9" fill="#f5c47c"/>
<rect x="899.3" y="630.8" width="17.0" height="17.2" fill="#67b1c8"/>
<text x="924.6" y="619.3" font-size="17.5" text-anchor="start" fill="#111" textLength="39.0" lengthAdjust="spacingAndGlyphs" stroke="#111" stroke-width="0.35">HSH:</text>
<text x="924.6" y="645.6" font-size="17.5" text-anchor="start" fill="#111" textLength="66.0" lengthAdjust="spacingAndGlyphs" stroke="#111" stroke-width="0.35">IADMET</text>
<rect x="842.0" y="734.9" width="12.8" height="36.8" fill="#f0953f"/>
<rect x="880.8" y="679.4" width="12.8" height="92.3" fill="#f0953f"/>
<rect x="919.9" y="679.4" width="12.2" height="92.3" fill="#f0953f"/>
<rect x="958.4" y="696.4" width="12.8" height="75.3" fill="#62b1c1"/>
<rect x="997.5" y="709.9" width="12.8" height="61.8" fill="#3ba79c"/>
<rect x="1037.0" y="725.9" width="12.8" height="45.8" fill="#14876e"/>
<line x1="810.2" y1="648.9" x2="810.2" y2="772.3" stroke="#2a2a2a" stroke-width="1.3" stroke-linecap="butt"/>
<line x1="807.5" y1="771.7" x2="1060.4" y2="771.7" stroke="#2a2a2a" stroke-width="1.3" stroke-linecap="butt"/>
<text x="805.0" y="654.1" font-size="12" text-anchor="end" fill="#111" stroke="#111" stroke-width="0.35">60</text>
<line x1="807.3" y1="649.9" x2="810.2" y2="649.9" stroke="#2a2a2a" stroke-width="1" stroke-linecap="butt"/>
<text x="805.0" y="685.2" font-size="12" text-anchor="end" fill="#111" stroke="#111" stroke-width="0.35">30</text>
<line x1="807.3" y1="681.0" x2="810.2" y2="681.0" stroke="#2a2a2a" stroke-width="1" stroke-linecap="butt"/>
<text x="805.0" y="715.7" font-size="12" text-anchor="end" fill="#111" stroke="#111" stroke-width="0.35">20</text>
<line x1="807.3" y1="711.5" x2="810.2" y2="711.5" stroke="#2a2a2a" stroke-width="1" stroke-linecap="butt"/>
<text x="805.0" y="746.1" font-size="12" text-anchor="end" fill="#111" stroke="#111" stroke-width="0.35">10</text>
<line x1="807.3" y1="741.9" x2="810.2" y2="741.9" stroke="#2a2a2a" stroke-width="1" stroke-linecap="butt"/>
<text x="805.0" y="776.0" font-size="12" text-anchor="end" fill="#111" stroke="#111" stroke-width="0.35">0</text>
<line x1="807.3" y1="771.8" x2="810.2" y2="771.8" stroke="#2a2a2a" stroke-width="1" stroke-linecap="butt"/>
<text transform="translate(848.1,730.8) scale(1.0,1)" x="0" y="0" font-size="11.8" text-anchor="middle" fill="#111" stroke="#111" stroke-width="0.40">5</text>
<text transform="translate(887.2,675.9) scale(1.0,1)" x="0" y="0" font-size="11.8" text-anchor="middle" fill="#111" stroke="#111" stroke-width="0.40">10</text>
<text transform="translate(925.7,675.9) scale(1.0,1)" x="0" y="0" font-size="11.8" text-anchor="middle" fill="#111" stroke="#111" stroke-width="0.40">10</text>
<text transform="translate(964.8,692.9) scale(1.0,1)" x="0" y="0" font-size="11.8" text-anchor="middle" fill="#111" stroke="#111" stroke-width="0.40">1</text>
<text transform="translate(1003.3,706.4) scale(1.0,1)" x="0" y="0" font-size="11.8" text-anchor="middle" fill="#111" stroke="#111" stroke-width="0.40">3</text>
<text transform="translate(1042.8,722.4) scale(1.0,1)" x="0" y="0" font-size="11.8" text-anchor="middle" fill="#111" stroke="#111" stroke-width="0.40">5</text>
<text transform="translate(850.4,782.3) rotate(-48)" x="0" y="4.5" font-size="12.5" text-anchor="end" fill="#111" stroke="#111" stroke-width="0.5">Lun</text>
<text transform="translate(890.4,782.3) rotate(-48)" x="0" y="4.5" font-size="12.5" text-anchor="end" fill="#111" stroke="#111" stroke-width="0.5">Hep</text>
<text transform="translate(928.9,782.3) rotate(-48)" x="0" y="4.5" font-size="12.5" text-anchor="end" fill="#111" stroke="#111" stroke-width="0.5">Per</text>
<text transform="translate(969.0,782.3) rotate(-48)" x="0" y="4.5" font-size="12.5" text-anchor="end" fill="#111" stroke="#111" stroke-width="0.5">Pey</text>
<text transform="translate(1006.8,782.3) rotate(-48)" x="0" y="4.5" font-size="12.5" text-anchor="end" fill="#111" stroke="#111" stroke-width="0.5">Aoll</text>
<text transform="translate(1046.0,782.3) rotate(-48)" x="0" y="4.5" font-size="12.5" text-anchor="end" fill="#111" stroke="#111" stroke-width="0.5">Segl</text>
<text transform="translate(780.3,706.6) rotate(-90)" x="0" y="0" font-size="11.5" font-weight="bold" text-anchor="middle" fill="#111" textLength="56" lengthAdjust="spacingAndGlyphs">Proportion</text>
</g>
</svg>
</body></html>
